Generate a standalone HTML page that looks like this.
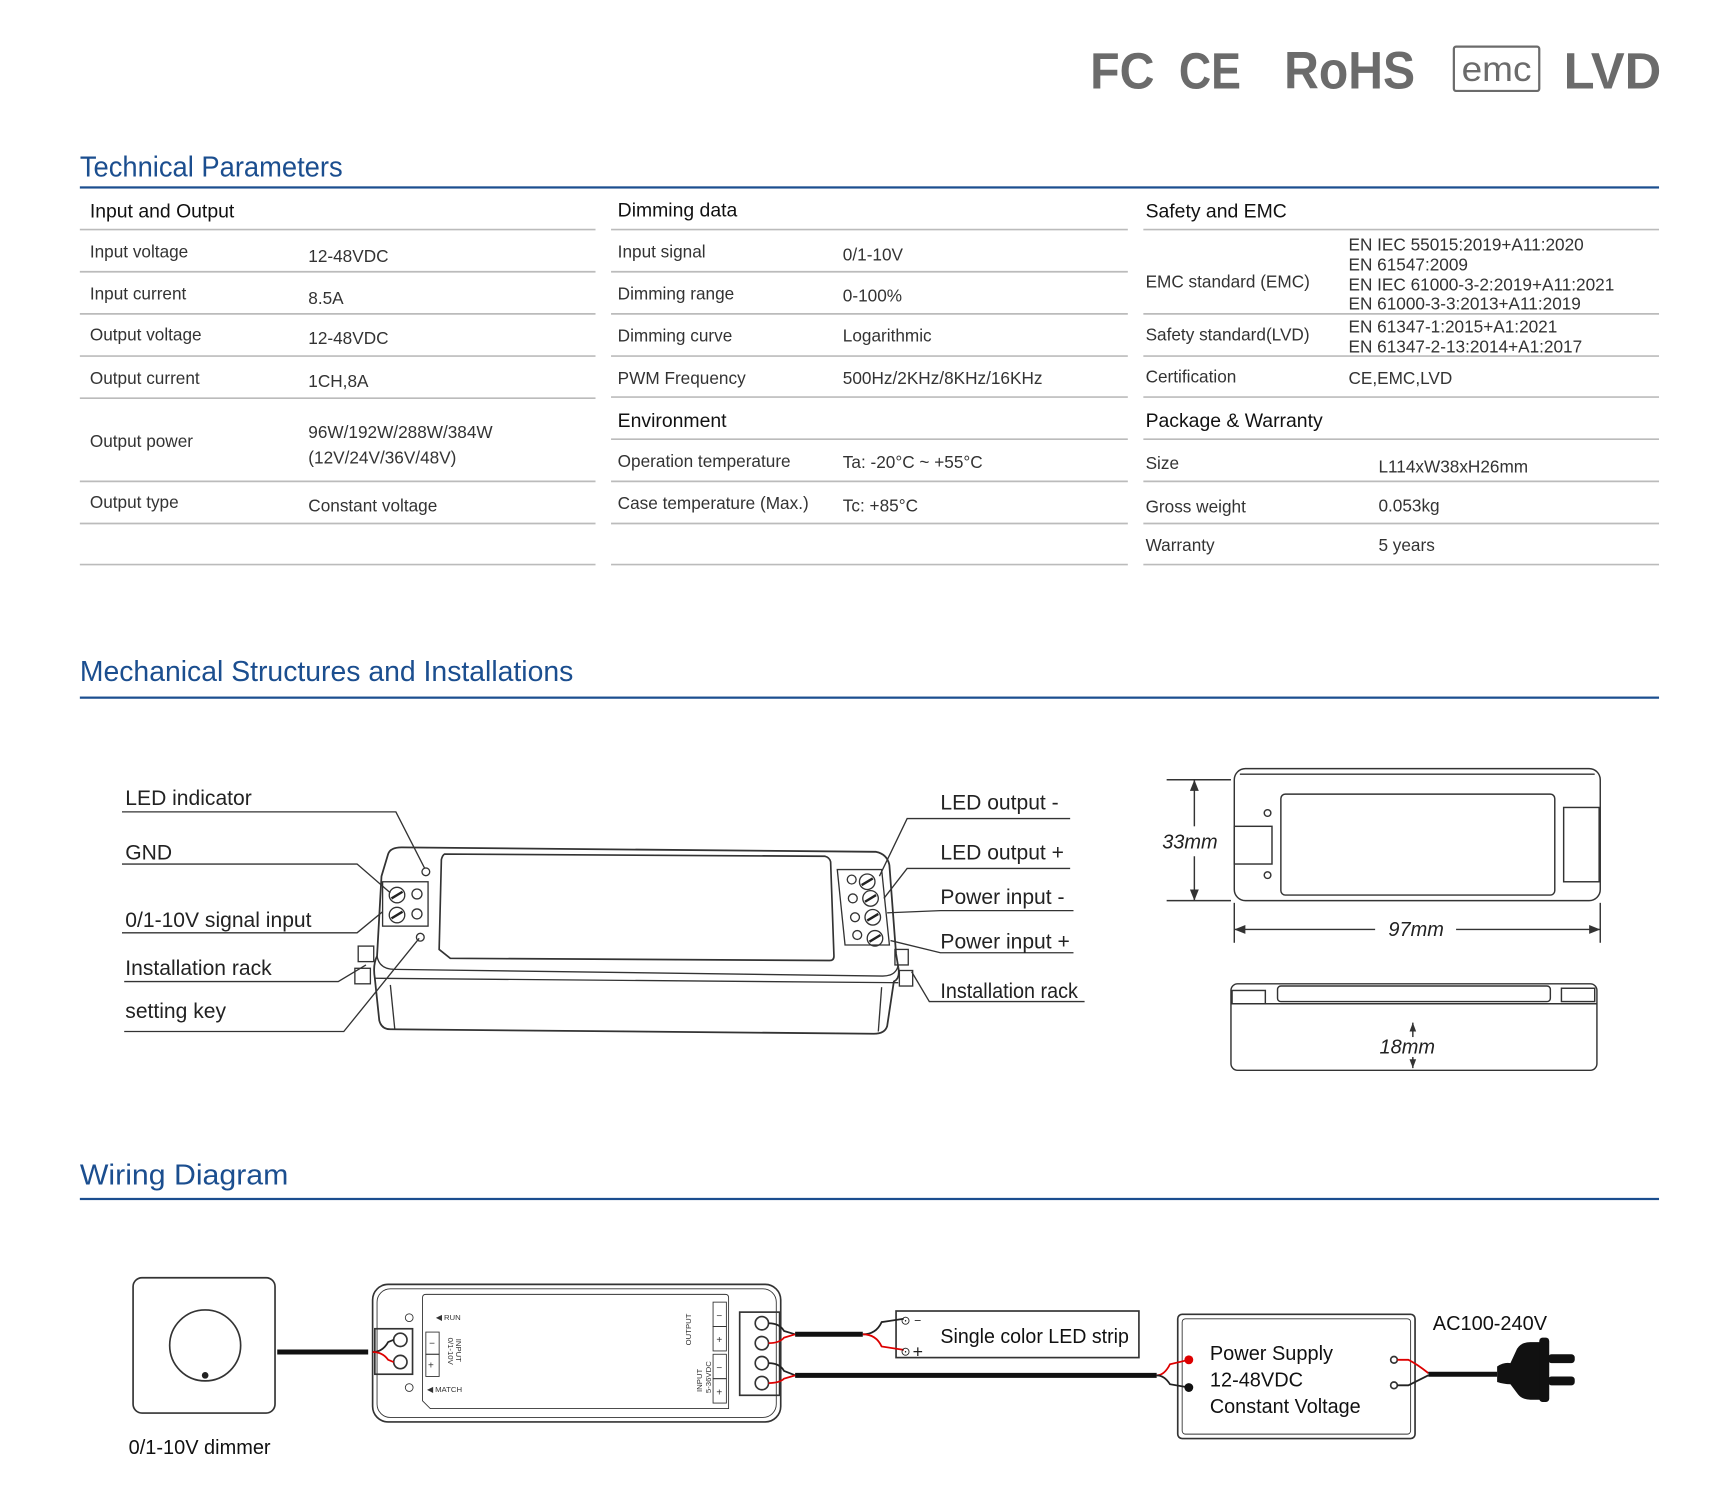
<!DOCTYPE html>
<html><head><meta charset="utf-8"><style>
html,body{margin:0;padding:0;background:#fff;}
svg{display:block;}
text{font-family:"Liberation Sans",sans-serif;}
.t{font-size:15.5px;fill:#333;}
.h{font-size:17.5px;fill:#111;}
.ti{font-size:26px;fill:#1b4e8f;}
.lb{font-size:19px;fill:#222;}
</style></head><body>
<svg width="1730" height="1504" viewBox="0 0 1560 1356" preserveAspectRatio="none" xmlns="http://www.w3.org/2000/svg">
<g fill="#6b6b6b" font-weight="bold">
<text x="983" y="80" font-size="46" textLength="58" lengthAdjust="spacingAndGlyphs">FC</text>
<text x="1063" y="80" font-size="46" textLength="56" lengthAdjust="spacingAndGlyphs">CE</text>
<text x="1158" y="80" font-size="48" textLength="118" lengthAdjust="spacingAndGlyphs">RoHS</text>
<text x="1410" y="80" font-size="46" textLength="88" lengthAdjust="spacingAndGlyphs">LVD</text>
</g>
<rect x="1311" y="42" width="77" height="40" fill="none" stroke="#6b6b6b" stroke-width="2" rx="2"/>
<text x="1318" y="73" font-size="32" fill="#6b6b6b" textLength="63" lengthAdjust="spacingAndGlyphs">emc</text>

<text x="72" y="159" class="ti" textLength="237" lengthAdjust="spacingAndGlyphs">Technical Parameters</text>
<rect x="72" y="168" width="1424" height="2" fill="#1b4e8f"/>
<g stroke="#bbb" stroke-width="1.5">
<line x1="72" x2="537" y1="207" y2="207"/><line x1="72" x2="537" y1="245" y2="245"/><line x1="72" x2="537" y1="283" y2="283"/><line x1="72" x2="537" y1="321" y2="321"/><line x1="72" x2="537" y1="359" y2="359"/><line x1="72" x2="537" y1="434" y2="434"/><line x1="72" x2="537" y1="472" y2="472"/><line x1="72" x2="537" y1="509" y2="509"/>
<line x1="551" x2="1017" y1="207" y2="207"/><line x1="551" x2="1017" y1="245" y2="245"/><line x1="551" x2="1017" y1="283" y2="283"/><line x1="551" x2="1017" y1="321" y2="321"/><line x1="551" x2="1017" y1="358" y2="358"/><line x1="551" x2="1017" y1="396" y2="396"/><line x1="551" x2="1017" y1="434" y2="434"/><line x1="551" x2="1017" y1="472" y2="472"/><line x1="551" x2="1017" y1="509" y2="509"/>
<line x1="1031" x2="1496" y1="207" y2="207"/><line x1="1031" x2="1496" y1="283" y2="283"/><line x1="1031" x2="1496" y1="321" y2="321"/><line x1="1031" x2="1496" y1="358" y2="358"/><line x1="1031" x2="1496" y1="396" y2="396"/><line x1="1031" x2="1496" y1="434" y2="434"/><line x1="1031" x2="1496" y1="472" y2="472"/><line x1="1031" x2="1496" y1="509" y2="509"/>
</g>
<text x="81" y="196" class="h">Input and Output</text>
<text x="81" y="232" class="t">Input voltage</text><text x="278" y="236" class="t">12-48VDC</text>
<text x="81" y="270" class="t">Input current</text><text x="278" y="274" class="t">8.5A</text>
<text x="81" y="307" class="t">Output voltage</text><text x="278" y="310" class="t">12-48VDC</text>
<text x="81" y="346" class="t">Output current</text><text x="278" y="349" class="t">1CH,8A</text>
<text x="81" y="403" class="t">Output power</text><text x="278" y="395" class="t">96W/192W/288W/384W</text><text x="278" y="418" class="t">(12V/24V/36V/48V)</text>
<text x="81" y="458" class="t">Output type</text><text x="278" y="461" class="t">Constant voltage</text>

<text x="557" y="195" class="h">Dimming data</text>
<text x="557" y="232" class="t">Input signal</text><text x="760" y="235" class="t">0/1-10V</text>
<text x="557" y="270" class="t">Dimming range</text><text x="760" y="272" class="t">0-100%</text>
<text x="557" y="308" class="t">Dimming curve</text><text x="760" y="308" class="t">Logarithmic</text>
<text x="557" y="346" class="t">PWM Frequency</text><text x="760" y="346" class="t">500Hz/2KHz/8KHz/16KHz</text>
<text x="557" y="385" class="h">Environment</text>
<text x="557" y="421" class="t">Operation temperature</text><text x="760" y="422" class="t">Ta: -20°C ~ +55°C</text>
<text x="557" y="459" class="t">Case temperature (Max.)</text><text x="760" y="461" class="t">Tc: +85°C</text>

<text x="1033" y="196" class="h">Safety and EMC</text>
<text x="1033" y="259" class="t">EMC standard (EMC)</text>
<text x="1216" y="226" class="t">EN IEC 55015:2019+A11:2020</text>
<text x="1216" y="244" class="t">EN 61547:2009</text>
<text x="1216" y="262" class="t">EN IEC 61000-3-2:2019+A11:2021</text>
<text x="1216" y="279" class="t">EN 61000-3-3:2013+A11:2019</text>
<text x="1033" y="307" class="t">Safety standard(LVD)</text>
<text x="1216" y="300" class="t">EN 61347-1:2015+A1:2021</text>
<text x="1216" y="318" class="t">EN 61347-2-13:2014+A1:2017</text>
<text x="1033" y="345" class="t">Certification</text><text x="1216" y="346" class="t">CE,EMC,LVD</text>
<text x="1033" y="385" class="h">Package &amp; Warranty</text>
<text x="1033" y="423" class="t">Size</text><text x="1243" y="426" class="t">L114xW38xH26mm</text>
<text x="1033" y="462" class="t">Gross weight</text><text x="1243" y="461" class="t">0.053kg</text>
<text x="1033" y="497" class="t">Warranty</text><text x="1243" y="497" class="t">5 years</text>

<text x="72" y="614" class="ti" textLength="445" lengthAdjust="spacingAndGlyphs">Mechanical Structures and Installations</text>
<rect x="72" y="628" width="1424" height="2" fill="#1b4e8f"/>

<g fill="none" stroke="#333" stroke-width="1.2">
<polyline points="110,732 357,732 383,783"/>
<polyline points="110,779 322,779 352,805"/>
<polyline points="110,841 322,841 345,822"/>
<polyline points="112,885 305,885 330,870"/>
<polyline points="112,930 310,930 378,846"/>
<polyline points="965,738 818,738 793,790"/>
<polyline points="965,783 818,783 797,810"/>
<polyline points="968,821 848,821 800,823"/>
<polyline points="968,859 848,859 803,848"/>
<polyline points="978,903 838,903 822,876"/>
<path d="M350,770 Q352,764 362,764 L790,768 Q800,770 802,780 L808,860 L810,872 Q812,882 806,885 L800,925 Q798,932 788,932 L352,928 Q344,928 342,920 L338,882 Q336,870 340,862 L344,790 Z" stroke-width="1.6"/>
<path d="M340,862 Q342,874 356,874 L796,880 Q808,880 810,870"/>
<path d="M338,882 L810,886"/>
<line x1="352" y1="888" x2="356" y2="928"/>
<line x1="795" y1="890" x2="792" y2="930"/>
<path d="M401,770 L744,772 Q748,773 749,777 L752,862 Q752,866 748,866 L406,864 L396,856 L398,775 Q399,771 401,770 Z" stroke-width="1.5"/>
<rect x="345" y="795" width="41" height="40"/>
<circle cx="358" cy="807" r="7"/><circle cx="358" cy="825" r="7"/><circle cx="376" cy="806" r="4.5"/><circle cx="376" cy="824" r="4.5"/>
<path d="M755,784 L795,784 L802,852 L762,852 Z"/>
<circle cx="782" cy="795" r="7"/><circle cx="785" cy="810" r="7"/><circle cx="787" cy="827" r="7"/><circle cx="789" cy="846" r="7"/>
<circle cx="768" cy="793" r="4"/><circle cx="769" cy="810" r="4"/><circle cx="771" cy="827" r="4"/><circle cx="773" cy="843" r="4"/>
<circle cx="384" cy="786" r="3.5"/><circle cx="379" cy="845" r="3.5"/>
<rect x="323" y="853" width="14" height="14"/><rect x="320" y="873" width="14" height="14"/>
<rect x="807" y="856" width="12" height="14"/><rect x="811" y="875" width="12" height="14"/>
</g>
<g stroke="#222" stroke-width="2.2">
<line x1="353" y1="810" x2="363" y2="804"/><line x1="353" y1="828" x2="363" y2="822"/>
<line x1="777" y1="798" x2="787" y2="792"/><line x1="780" y1="813" x2="790" y2="807"/><line x1="782" y1="830" x2="792" y2="824"/><line x1="784" y1="849" x2="794" y2="843"/>
</g>
<text x="113" y="726" class="lb">LED  indicator</text>
<text x="113" y="775" class="lb">GND</text>
<text x="113" y="836" class="lb">0/1-10V signal input</text>
<text x="113" y="879" class="lb">Installation rack</text>
<text x="113" y="918" class="lb">setting key</text>
<text x="848" y="730" class="lb">LED output -</text>
<text x="848" y="775" class="lb">LED output +</text>
<text x="848" y="815" class="lb">Power input -</text>
<text x="848" y="855" class="lb">Power input +</text>
<text x="848" y="900" class="lb" textLength="124" lengthAdjust="spacingAndGlyphs">Installation rack</text>

<g fill="none" stroke="#333" stroke-width="1.3">
<rect x="1113" y="693" width="330" height="119" rx="10"/>
<path d="M1118,698 L1438,698"/>
<rect x="1155" y="716" width="247" height="91" rx="4"/>
<rect x="1113" y="745" width="34" height="34"/>
<rect x="1410" y="728" width="32" height="67"/>
<circle cx="1143" cy="733" r="3"/><circle cx="1143" cy="789" r="3"/>
<line x1="1052" y1="703" x2="1110" y2="703"/><line x1="1052" y1="812" x2="1110" y2="812"/>
<line x1="1077" y1="703" x2="1077" y2="745"/><line x1="1077" y1="772" x2="1077" y2="812"/>
<line x1="1113" y1="814" x2="1113" y2="850"/><line x1="1443" y1="814" x2="1443" y2="850"/>
<line x1="1113" y1="838" x2="1240" y2="838"/><line x1="1313" y1="838" x2="1443" y2="838"/>
<rect x="1110" y="887" width="330" height="78" rx="6"/>
<line x1="1110" y1="905" x2="1440" y2="905"/>
<rect x="1152" y="889" width="246" height="14" rx="3"/>
<rect x="1111" y="893" width="30" height="12"/><rect x="1408" y="891" width="30" height="12"/>
<line x1="1274" y1="922" x2="1274" y2="935"/><line x1="1274" y1="953" x2="1274" y2="963"/>
</g>
<g fill="#333">
<path d="M1077,703 l-4,10 l8,0z"/><path d="M1077,812 l-4,-10 l8,0z"/>
<path d="M1113,838 l10,-4 l0,8z"/><path d="M1443,838 l-10,-4 l0,8z"/>
<path d="M1274,922 l-3,8 l6,0z"/><path d="M1274,963 l-3,-8 l6,0z"/>
</g>
<text x="1048" y="765" font-size="18" font-style="italic" fill="#222">33mm</text>
<text x="1252" y="844" font-size="18" font-style="italic" fill="#222">97mm</text>
<text x="1244" y="950" font-size="18" font-style="italic" fill="#222">18mm</text>

<text x="72" y="1068" class="ti" textLength="188" lengthAdjust="spacingAndGlyphs">Wiring Diagram</text>
<rect x="72" y="1080" width="1424" height="2" fill="#1b4e8f"/>

<g fill="none" stroke="#333" stroke-width="1.5">
<rect x="120" y="1152" width="128" height="122" rx="8"/>
<circle cx="185" cy="1213" r="32"/>
<rect x="336" y="1158" width="368" height="124" rx="14"/>
<rect x="340" y="1162" width="360" height="116" rx="12" stroke-width="0.8"/>
<path d="M384,1167 L654,1167 Q657,1167 657,1170 L657,1270 L388,1270 L381,1263 L381,1170 Q381,1167 384,1167Z" stroke-width="0.8"/>
<rect x="338" y="1198" width="34" height="41"/>
<circle cx="361" cy="1208" r="6"/><circle cx="361" cy="1228" r="6"/>
<circle cx="369" cy="1188" r="3.5" stroke-width="0.8"/><circle cx="369" cy="1251" r="3.5" stroke-width="0.8"/>
<rect x="384" y="1201" width="12" height="20" stroke-width="0.8"/><rect x="384" y="1221" width="12" height="20" stroke-width="0.8"/>
<rect x="643" y="1174" width="12" height="22" stroke-width="0.8"/><rect x="643" y="1196" width="12" height="22" stroke-width="0.8"/>
<rect x="643" y="1221" width="12" height="22" stroke-width="0.8"/><rect x="643" y="1243" width="12" height="22" stroke-width="0.8"/>
<rect x="667" y="1183" width="36" height="75"/>
<circle cx="687" cy="1193" r="6"/><circle cx="687" cy="1211" r="6"/><circle cx="687" cy="1229" r="6"/><circle cx="687" cy="1247" r="6"/>
<rect x="808" y="1182" width="219" height="42"/>
<rect x="1062" y="1185" width="214" height="112" rx="4"/>
<rect x="1066" y="1189" width="206" height="104" rx="3" stroke-width="0.8"/>
<circle cx="1257" cy="1226" r="3"/><circle cx="1257" cy="1249" r="3"/>
</g>
<circle cx="185" cy="1240" r="3" fill="#222"/>
<g fill="none" stroke-width="1.6">
<path d="M336,1219 Q345,1219 350,1210 L355,1208" stroke="#222"/>
<path d="M336,1219 Q345,1219 350,1226 L355,1228" stroke="#d00"/>
<path d="M693,1193 Q703,1193 707,1200 L717,1203" stroke="#222"/>
<path d="M693,1211 Q703,1211 707,1206 L717,1203" stroke="#d00"/>
<path d="M693,1229 Q703,1229 707,1236 L717,1240" stroke="#222"/>
<path d="M693,1247 Q703,1247 707,1243 L717,1240" stroke="#d00"/>
<path d="M778,1203 Q790,1203 795,1192 L815,1189" stroke="#222"/>
<path d="M778,1203 Q790,1203 795,1214 L815,1217" stroke="#d00"/>
<path d="M1043,1240 Q1050,1240 1055,1230 L1072,1226" stroke="#d00"/>
<path d="M1043,1240 Q1050,1240 1055,1248 L1072,1251" stroke="#222"/>
<path d="M1260,1226 L1270,1226 Q1278,1230 1288,1238" stroke="#d00"/>
<path d="M1260,1249 L1270,1249 Q1278,1245 1288,1240" stroke="#222"/>
</g>
<g stroke="#111" stroke-width="4.5">
<line x1="250" y1="1219" x2="332" y2="1219"/>
<line x1="717" y1="1203" x2="778" y2="1203"/>
<line x1="717" y1="1240" x2="1043" y2="1240"/>
<line x1="1288" y1="1239" x2="1350" y2="1239"/>
</g>
<circle cx="1072" cy="1226" r="4" fill="#d00"/><circle cx="1072" cy="1251" r="4" fill="#111"/>
<path d="M1350,1232 Q1356,1228 1362,1229 L1368,1216 Q1372,1210 1380,1210 L1390,1210 L1390,1262 L1380,1262 Q1372,1262 1368,1256 L1362,1248 Q1356,1248 1350,1246 Z" fill="#111"/>
<rect x="1388" y="1206" width="9" height="58" rx="3" fill="#111"/>
<rect x="1396" y="1221" width="24" height="8" rx="3" fill="#111"/>
<rect x="1396" y="1241" width="24" height="8" rx="3" fill="#111"/>
<text x="812" y="1194" font-size="11" fill="#222">⊙ −</text>
<text x="812" y="1222" font-size="11" fill="#222">⊙</text>
<text x="823" y="1224" font-size="16" fill="#222">+</text>
<g font-size="7" fill="#333">
<text x="393" y="1190">◀  RUN</text><text x="385" y="1255">◀  MATCH</text>
<text x="387" y="1214" font-size="9">−</text><text x="386" y="1234" font-size="9">+</text>
<text x="646" y="1189" font-size="9">−</text><text x="646" y="1211" font-size="9">+</text>
<text x="646" y="1236" font-size="9">−</text><text x="646" y="1258" font-size="9">+</text>
<text transform="translate(411,1207) rotate(90)">INPUT</text>
<text transform="translate(404,1206) rotate(90)">0/1-10V</text>
<text transform="translate(623,1213) rotate(-90)">OUTPUT</text>
<text transform="translate(633,1255) rotate(-90)">INPUT</text>
<text transform="translate(641,1256) rotate(-90)">5-36VDC</text>
</g>
<text x="848" y="1211" font-size="18" fill="#111" textLength="170" lengthAdjust="spacingAndGlyphs">Single color LED strip</text>
<text x="1091" y="1226" font-size="18" fill="#111">Power Supply</text>
<text x="1091" y="1250" font-size="18" fill="#111">12-48VDC</text>
<text x="1091" y="1274" font-size="18" fill="#111" textLength="136" lengthAdjust="spacingAndGlyphs">Constant Voltage</text>
<text x="1292" y="1199" font-size="18" fill="#111">AC100-240V</text>
<text x="116" y="1311" font-size="18" fill="#111">0/1-10V dimmer</text>
</svg>
</body></html>
